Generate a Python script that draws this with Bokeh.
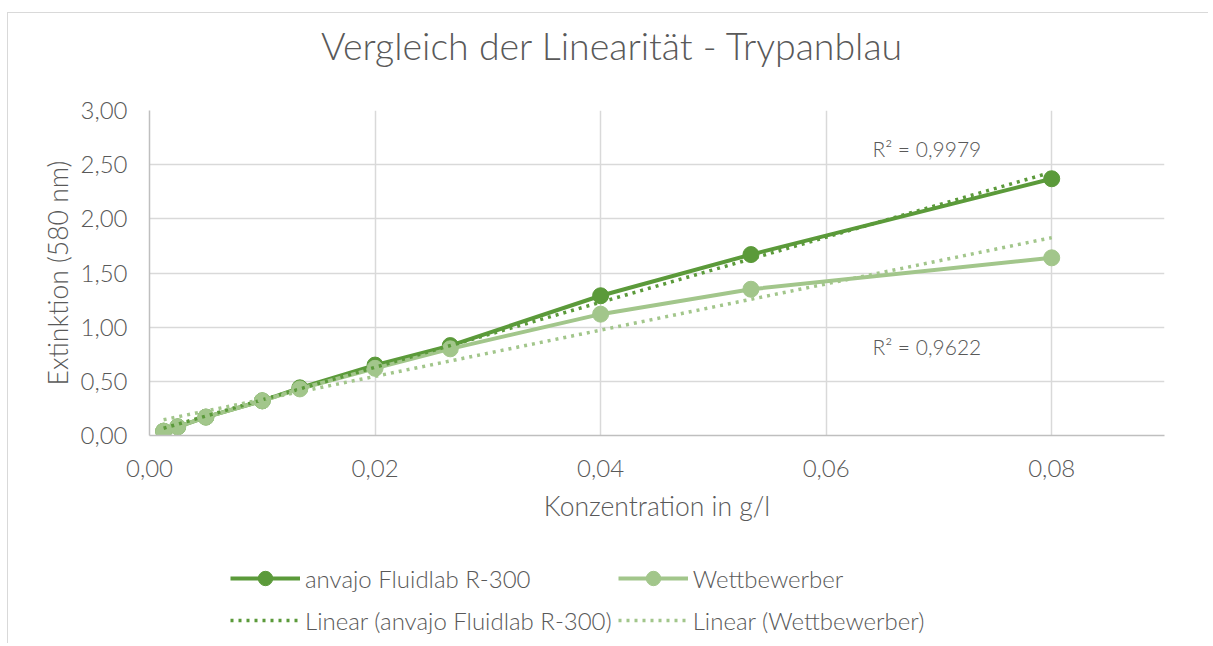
import numpy as np
from bokeh.plotting import figure
from bokeh.layouts import column
from bokeh.models import Range1d, FixedTicker, CustomJSTickFormatter, Legend, LegendItem, Label
from bokeh.embed import file_html
from bokeh.resources import INLINE

# ---- data ----
konz = [0.00125, 0.0025, 0.005, 0.01, 0.01333, 0.02, 0.02667, 0.04, 0.05333, 0.08]
anvajo = [0.04, 0.08, 0.17, 0.32, 0.44, 0.65, 0.83, 1.29, 1.67, 2.37]
wettbewerber = [0.04, 0.08, 0.17, 0.32, 0.43, 0.62, 0.80, 1.12, 1.35, 1.64]
x_ticks = [0.0, 0.02, 0.04, 0.06, 0.08]
y_ticks = [0.0, 0.5, 1.0, 1.5, 2.0, 2.5, 3.0]
r2_labels = ["R² = 0,9979", "R² = 0,9622"]
series_names = ["anvajo Fluidlab R-300", "Wettbewerber"]
title_text = "Vergleich der Linearität - Trypanblau"

FONT = "Lato Light"
TXT = "#595959"
DARK = "#5B9A3A"
LIGHT = "#A2C68B"
W = 1200


def bare(fig):
    fig.outline_line_color = None
    fig.background_fill_color = "white"
    fig.border_fill_color = "white"
    fig.xgrid.visible = False
    fig.ygrid.visible = False


# ---------- title strip ----------
tp = figure(width=W, height=60, output_backend="svg", toolbar_location=None,
            x_range=Range1d(0, 1), y_range=Range1d(0, 1),
            x_axis_location=None, y_axis_location=None, min_border=0)
bare(tp)
tp.add_layout(Label(x=0.4562, y=0.47, text=title_text, text_font=FONT, text_font_size="37.5px",
                    text_color=TXT, text_baseline="middle", text_align="center"))

# ---------- main chart ----------
p = figure(width=W, height=462, output_backend="svg", toolbar_location=None,
           x_range=Range1d(0, 0.09), y_range=Range1d(0, 3.0),
           min_border_left=141, min_border_right=44, min_border_top=37, min_border_bottom=100)
p.outline_line_color = None
p.background_fill_color = "white"
p.border_fill_color = "white"

for ax in (p.xaxis[0], p.yaxis[0]):
    ax.axis_line_color = "#bfbfbf"
    ax.axis_line_width = 1.5
    ax.major_tick_line_color = None
    ax.minor_tick_line_color = None
    ax.major_tick_out = 0
    ax.major_tick_in = 0
    ax.major_label_text_font = FONT
    ax.major_label_text_font_size = "24px"
    ax.major_label_text_color = TXT
    ax.axis_label_text_font = FONT
    ax.axis_label_text_font_size = "26.5px"
    ax.axis_label_text_color = TXT
    ax.axis_label_text_font_style = "normal"

p.xaxis.ticker = FixedTicker(ticks=x_ticks)
p.yaxis.ticker = FixedTicker(ticks=y_ticks)
fmt = CustomJSTickFormatter(code="return tick.toFixed(2).replace('.', ',');")
p.xaxis.formatter = fmt
p.yaxis.formatter = fmt
p.xaxis.axis_label = "Konzentration in g/l"
p.yaxis.axis_label = "Extinktion (580 nm)"
p.xaxis.major_label_standoff = 24
p.yaxis.major_label_standoff = 22
p.xaxis.axis_label_standoff = 10
p.yaxis.axis_label_standoff = 3

p.xgrid.grid_line_color = "#d9d9d9"
p.ygrid.grid_line_color = "#d9d9d9"
p.xgrid.grid_line_width = 1.5
p.ygrid.grid_line_width = 1.5

p.line(konz, anvajo, line_color=DARK, line_width=4)
p.scatter(konz, anvajo, size=16, fill_color=DARK, line_color=DARK)
p.line(konz, wettbewerber, line_color=LIGHT, line_width=4)
p.scatter(konz, wettbewerber, size=16, fill_color=LIGHT, line_color=LIGHT)

# linear trendlines (least squares fit of the series)
xs = np.array([konz[0], konz[-1]])
m1, b1 = np.polyfit(konz, anvajo, 1)
m2, b2 = np.polyfit(konz, wettbewerber, 1)
p.line(xs, m1 * xs + b1, line_color=DARK, line_width=3.5, line_dash="3 5")
p.line(xs, m2 * xs + b2, line_color=LIGHT, line_width=3.5, line_dash="3 5")

p.add_layout(Label(x=0.0641, y=2.65, text=r2_labels[0], text_font=FONT, text_font_size="21px",
                   text_color=TXT, text_baseline="middle", text_align="left"))
p.add_layout(Label(x=0.0641, y=0.82, text=r2_labels[1], text_font=FONT, text_font_size="21px",
                   text_color=TXT, text_baseline="middle", text_align="left"))

# ---------- legend strip (same series, drawn outside its view, only for legend glyphs) ----------
lp = figure(width=W, height=108, output_backend="svg", toolbar_location=None,
            x_range=Range1d(10, 11), y_range=Range1d(10, 11),
            x_axis_location=None, y_axis_location=None, min_border=0)
bare(lp)
l1 = lp.line(konz, anvajo, line_color=DARK, line_width=4)
s1 = lp.scatter(konz, anvajo, size=16, fill_color=DARK, line_color=DARK)
l2 = lp.line(konz, wettbewerber, line_color=LIGHT, line_width=4)
s2 = lp.scatter(konz, wettbewerber, size=16, fill_color=LIGHT, line_color=LIGHT)
t1 = lp.line(xs, m1 * xs + b1, line_color=DARK, line_width=3.5, line_dash="3 5")
t2 = lp.line(xs, m2 * xs + b2, line_color=LIGHT, line_width=3.5, line_dash="3 5")

legend = Legend(items=[
    LegendItem(label=series_names[0], renderers=[l1, s1]),
    LegendItem(label="Linear (" + series_names[0] + ")", renderers=[t1]),
    LegendItem(label=series_names[1], renderers=[l2, s2]),
    LegendItem(label="Linear (" + series_names[1] + ")", renderers=[t2]),
], ncols=2, location=(81, 5))
legend.label_text_font = FONT
legend.label_text_font_size = "24px"
legend.label_text_color = TXT
legend.glyph_width = 70
legend.glyph_height = 36
legend.spacing = 6
legend.padding = 0
legend.margin = 0
legend.label_standoff = 5
legend.border_line_color = None
legend.background_fill_alpha = 0
lp.add_layout(legend, "center")

layout = column(tp, p, lp, spacing=0,
                styles={"border-left": "1px solid #d9d9d9", "border-top": "1px solid #d9d9d9",
                        "margin-top": "12px", "margin-left": "7px"})

open("out.html", "w").write(file_html(layout, INLINE))
